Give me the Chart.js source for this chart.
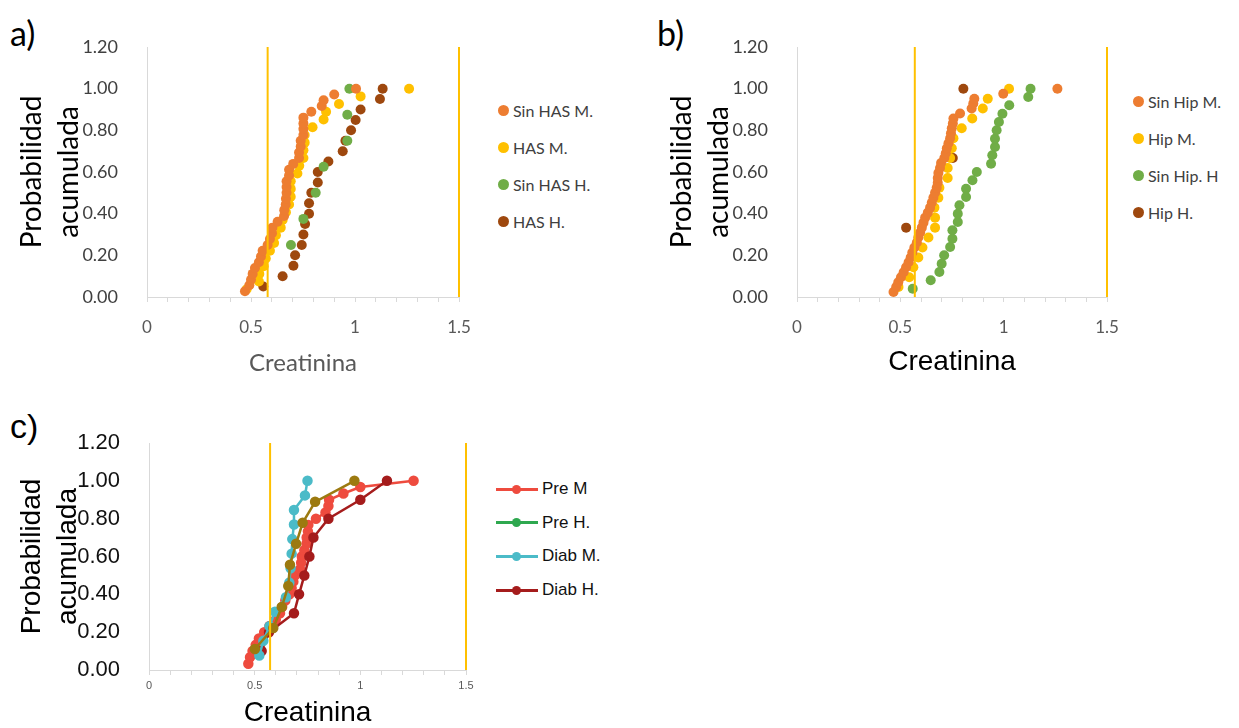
<!DOCTYPE html>
<html>
<head>
<meta charset="utf-8">
<script src="https://cdn.jsdelivr.net/npm/chart.js@4.4.1/dist/chart.umd.min.js"></script>
<style>
  body { margin: 0; background: #fff; width: 1239px; height: 728px; position: relative; overflow: hidden; }
  canvas { position: absolute; }
  .tag { position: absolute; color: #000; line-height: 1; }
  .leg { position: absolute; white-space: nowrap; }
  .leg .row { position: absolute; left: 0; height: 20px; display: flex; align-items: center; }
  .dot { display: inline-block; width: 11px; height: 11px; border-radius: 50%; margin-right: 4px; }
  .ln { position: relative; display: inline-block; width: 42px; height: 3px; margin-right: 4px; }
  .ln i { position: absolute; left: 16px; top: -3px; width: 9px; height: 9px; border-radius: 50%; }
</style>
</head>
<body>
<div class="tag" style="left:10px;top:12px;font:34px Lato, sans-serif">a)</div>
<div class="tag" style="left:657px;top:12px;font:34px Lato, sans-serif">b)</div>
<div class="tag" style="left:10px;top:407px;font:34px 'Liberation Sans', sans-serif">c)</div>
<canvas id="chartA" width="470" height="385" style="left:0;top:0"></canvas>
<canvas id="chartB" width="470" height="385" style="left:650px;top:0"></canvas>
<canvas id="chartC" width="480" height="338" style="left:0;top:390px"></canvas>
<div class="leg" id="legA" style="left:498px;top:0"></div>
<div class="leg" id="legB" style="left:1133px;top:0"></div>
<div class="leg" id="legC" style="left:496px;top:0"></div>
<script>
// a) HAS
const aSinHasMX = [0.471, 0.492, 0.5, 0.508, 0.519, 0.538, 0.548, 0.556, 0.58, 0.591, 0.601, 0.603, 0.628, 0.659, 0.66, 0.667, 0.668, 0.671, 0.671, 0.671, 0.683, 0.683, 0.703, 0.731, 0.731, 0.739, 0.739, 0.752, 0.752, 0.752, 0.752, 0.79, 0.84, 0.849, 0.9, 1.005];
const aSinHasMY = [0.028, 0.056, 0.083, 0.111, 0.139, 0.167, 0.194, 0.222, 0.25, 0.278, 0.306, 0.333, 0.361, 0.389, 0.417, 0.444, 0.472, 0.5, 0.528, 0.556, 0.583, 0.611, 0.639, 0.667, 0.694, 0.722, 0.75, 0.778, 0.806, 0.833, 0.861, 0.889, 0.917, 0.944, 0.972, 1.0];
const aHasMX = [0.479, 0.538, 0.54, 0.561, 0.571, 0.591, 0.611, 0.62, 0.643, 0.652, 0.668, 0.683, 0.691, 0.691, 0.691, 0.723, 0.732, 0.752, 0.752, 0.758, 0.758, 0.796, 0.849, 0.861, 0.923, 1.027, 1.26];
const aHasMY = [0.037, 0.074, 0.111, 0.148, 0.185, 0.222, 0.259, 0.296, 0.333, 0.37, 0.407, 0.444, 0.481, 0.519, 0.556, 0.593, 0.63, 0.667, 0.704, 0.741, 0.778, 0.815, 0.852, 0.889, 0.926, 0.963, 1.0];
const aSinHasHX = [0.527, 0.692, 0.752, 0.811, 0.849, 0.963, 0.963, 0.973];
const aSinHasHY = [0.125, 0.25, 0.375, 0.5, 0.625, 0.75, 0.875, 1.0];
const aHasHX = [0.559, 0.652, 0.704, 0.712, 0.744, 0.752, 0.76, 0.779, 0.779, 0.79, 0.821, 0.821, 0.872, 0.941, 0.954, 0.981, 1.003, 1.027, 1.12, 1.133];
const aHasHY = [0.05, 0.1, 0.15, 0.2, 0.25, 0.3, 0.35, 0.4, 0.45, 0.5, 0.55, 0.6, 0.65, 0.7, 0.75, 0.8, 0.85, 0.9, 0.95, 1.0];
const refA = [0.58, 1.5];

// b) Hipotiroidismo
const bSinHipMX = [0.467, 0.48, 0.49, 0.503, 0.516, 0.528, 0.54, 0.55, 0.558, 0.568, 0.58, 0.587, 0.596, 0.604, 0.612, 0.62, 0.633, 0.644, 0.652, 0.66, 0.668, 0.676, 0.681, 0.681, 0.684, 0.692, 0.697, 0.713, 0.72, 0.725, 0.733, 0.741, 0.745, 0.749, 0.754, 0.757, 0.789, 0.845, 0.853, 0.858, 0.998, 1.26];
const bSinHipMY = [0.024, 0.048, 0.071, 0.095, 0.119, 0.143, 0.167, 0.19, 0.214, 0.238, 0.262, 0.286, 0.31, 0.333, 0.357, 0.381, 0.405, 0.429, 0.452, 0.476, 0.5, 0.524, 0.548, 0.571, 0.595, 0.619, 0.643, 0.667, 0.69, 0.714, 0.738, 0.762, 0.786, 0.81, 0.833, 0.857, 0.881, 0.905, 0.929, 0.952, 0.976, 1.0];
const bHipMX = [0.491, 0.543, 0.563, 0.587, 0.607, 0.636, 0.668, 0.668, 0.665, 0.684, 0.689, 0.729, 0.729, 0.741, 0.749, 0.757, 0.797, 0.848, 0.899, 0.923, 1.026];
const bHipMY = [0.048, 0.095, 0.143, 0.19, 0.238, 0.286, 0.333, 0.381, 0.429, 0.476, 0.524, 0.571, 0.619, 0.667, 0.714, 0.762, 0.81, 0.857, 0.905, 0.952, 1.0];
const bSinHipHX = [0.56, 0.647, 0.689, 0.7, 0.712, 0.741, 0.752, 0.752, 0.778, 0.778, 0.786, 0.818, 0.818, 0.849, 0.87, 0.939, 0.945, 0.958, 0.958, 0.966, 0.977, 0.994, 1.027, 1.119, 1.13];
const bSinHipHY = [0.04, 0.08, 0.12, 0.16, 0.2, 0.24, 0.28, 0.32, 0.36, 0.4, 0.44, 0.48, 0.52, 0.56, 0.6, 0.64, 0.68, 0.72, 0.76, 0.8, 0.84, 0.88, 0.92, 0.96, 1.0];
const bHipHX = [0.528, 0.754, 0.805];
const bHipHY = [0.333, 0.667, 1.0];
const refB = [0.57, 1.5];

// c) Prediabetes / Diabetes
const cPreMX = [0.47, 0.478, 0.49, 0.505, 0.52, 0.545, 0.57, 0.6, 0.62, 0.63, 0.645, 0.665, 0.675, 0.683, 0.69, 0.715, 0.72, 0.723, 0.735, 0.745, 0.746, 0.752, 0.754, 0.79, 0.835, 0.849, 0.852, 0.92, 1.0, 1.252];
const cPreMY = [0.033, 0.067, 0.1, 0.133, 0.167, 0.2, 0.233, 0.267, 0.3, 0.333, 0.367, 0.4, 0.433, 0.467, 0.5, 0.533, 0.567, 0.6, 0.633, 0.667, 0.7, 0.733, 0.767, 0.8, 0.833, 0.867, 0.9, 0.933, 0.967, 1.0];
const cPreHX = [0.501, 0.588, 0.628, 0.659, 0.667, 0.696, 0.727, 0.786, 0.972];
const cPreHY = [0.111, 0.222, 0.333, 0.444, 0.556, 0.667, 0.778, 0.889, 1.0];
const cDiabMX = [0.522, 0.541, 0.57, 0.596, 0.648, 0.664, 0.67, 0.675, 0.678, 0.686, 0.686, 0.738, 0.75];
const cDiabMY = [0.077, 0.154, 0.231, 0.308, 0.385, 0.462, 0.538, 0.615, 0.692, 0.769, 0.846, 0.923, 1.0];
const cDiabHX = [0.533, 0.568, 0.686, 0.71, 0.735, 0.759, 0.778, 0.849, 1.0, 1.126];
const cDiabHY = [0.1, 0.2, 0.3, 0.4, 0.5, 0.6, 0.7, 0.8, 0.9, 1.0];
const refC = [0.573, 1.5];

const pts = (xs, ys) => xs.map((x, i) => ({ x, y: ys[i] }));

function refLines(xs) {
  return xs.map(x => ({
    type: 'line', data: [{ x, y: 0 }, { x, y: 1.2 }], clip: false,
    borderColor: '#FFC000', borderWidth: 2, pointRadius: 0, showLine: true
  }));
}

function dots(label, xs, ys, color) {
  return { label, data: pts(xs, ys), backgroundColor: color, borderColor: color, borderWidth: 0, pointRadius: 5, pointHoverRadius: 5 };
}

function lineSeries(label, xs, ys, color) {
  return { label, data: pts(xs, ys), showLine: true, tension: 0, backgroundColor: color, borderColor: color,
    borderWidth: 2.5, pointRadius: 4, pointHoverRadius: 4 };
}

function makeChart(id, datasets, L) {
  return new Chart(document.getElementById(id), {
    type: 'scatter',
    data: { datasets },
    options: {
      responsive: false, animation: false, devicePixelRatio: 1,
      layout: { padding: { left: 0, right: L.padR, top: L.padT, bottom: 0 } },
      plugins: { legend: { display: false }, tooltip: { enabled: false } },
      scales: {
        x: {
          type: 'linear', min: 0, max: 1.5,
          afterFit: s => { s.height = L.xH; s.paddingLeft = 0; s.paddingRight = 0; },
          grid: { drawOnChartArea: false, drawTicks: true, tickLength: 5, color: '#d9d9d9' },
          border: { color: '#d9d9d9' },
          ticks: {
            stepSize: 0.1, autoSkip: false, maxRotation: 0, padding: L.xPad, color: '#595959', font: L.xFont,
            callback: v => Math.abs(v * 2 - Math.round(v * 2)) < 1e-6 ? String(Math.round(v * 10) / 10) : ''
          },
          title: { display: true, text: 'Creatinina', color: L.xTitleColor, font: L.xTitleFont, padding: { top: 0, bottom: L.xTitlePad } }
        },
        y: {
          min: 0, max: 1.2,
          afterFit: s => { s.width = L.yW; s.paddingTop = 0; s.paddingBottom = 0; },
          grid: { display: false },
          border: { color: '#d9d9d9' },
          ticks: { stepSize: 0.2, padding: L.yPad, color: L.yColor, font: L.yFont, callback: v => v.toFixed(2) },
          title: { display: true, text: ['Probabilidad', 'acumulada'], color: '#000', font: L.yTitleFont, padding: { top: L.yTitlePad, bottom: 0 } }
        }
      }
    }
  });
}

function legend(id, items, y0, gap, kind, font, color) {
  const box = document.getElementById(id);
  items.forEach((it, i) => {
    const row = document.createElement('div');
    row.className = 'row';
    row.style.top = (y0 + i * gap - 10) + 'px';
    row.style.font = font;
    row.style.color = color;
    const mark = kind === 'dot'
      ? `<span class="dot" style="background:${it.color}"></span>`
      : `<span class="ln" style="background:${it.color}"><i style="background:${it.color}"></i></span>`;
    row.innerHTML = mark + `<span>${it.label}</span>`;
    box.appendChild(row);
  });
}

const latoLayout = {
  padT: 47, xH: 88, xPad: 15, xFont: { family: 'Lato', size: 17 },
  yPad: 21, yColor: '#404040', yFont: { family: 'Lato', size: 18 },
  yTitleFont: { family: 'Lato', size: 28, lineHeight: 1.3 }, yTitlePad: 14
};

const seriesA = [
  ['Sin HAS M.', aSinHasMX, aSinHasMY, '#ED7D31'],
  ['HAS M.', aHasMX, aHasMY, '#FFC000'],
  ['Sin HAS H.', aSinHasHX, aSinHasHY, '#70AD47'],
  ['HAS H.', aHasHX, aHasHY, '#9E480E']
];
makeChart('chartA', [...refLines(refA), ...seriesA.map(s => dots(...s))], {
  ...latoLayout, padR: 11, yW: 147,
  xTitleColor: '#595959', xTitleFont: { family: 'Lato', size: 24, lineHeight: 1.2 }, xTitlePad: 7
});
legend('legA', seriesA.map(s => ({ label: s[0], color: s[3] })), 110, 37, 'dot', '16px Lato', '#404040');

const seriesB = [
  ['Sin Hip M.', bSinHipMX, bSinHipMY, '#ED7D31'],
  ['Hip M.', bHipMX, bHipMY, '#FFC000'],
  ['Sin Hip. H', bSinHipHX, bSinHipHY, '#70AD47'],
  ['Hip H.', bHipHX, bHipHY, '#9E480E']
];
makeChart('chartB', [...refLines(refB), ...seriesB.map(s => dots(...s))], {
  ...latoLayout, padR: 13, yW: 147,
  xTitleColor: '#000', xTitleFont: { family: 'Liberation Sans', size: 28, lineHeight: 1.2 }, xTitlePad: 6
});
legend('legB', seriesB.map(s => ({ label: s[0], color: s[3] })), 101, 37, 'dot', '16px Lato', '#404040');

const seriesC = [
  ['Pre H.', cPreHX, cPreHY, '#9C7A10'],
  ['Diab M.', cDiabMX, cDiabMY, '#4BBBC8'],
  ['Diab H.', cDiabHX, cDiabHY, '#A51C1C'],
  ['Pre M', cPreMX, cPreMY, '#EE4B3E']
];
makeChart('chartC', [...refLines(refC), ...seriesC.map(s => lineSeries(...s))], {
  padT: 53, padR: 14, xH: 58, yW: 149, xPad: 4, xFont: { family: 'Liberation Sans', size: 11 },
  yPad: 21, yColor: '#111', yFont: { family: 'Liberation Sans', size: 22 },
  yTitleFont: { family: 'Liberation Sans', size: 28, lineHeight: 1.3 }, yTitlePad: 14,
  xTitleColor: '#000', xTitleFont: { family: 'Liberation Sans', size: 28, lineHeight: 1 }, xTitlePad: 1
});
legend('legC', [
  { label: 'Pre M', color: '#EE4B3E' },
  { label: 'Pre H.', color: '#2EA84F' },
  { label: 'Diab M.', color: '#4BBBC8' },
  { label: 'Diab H.', color: '#A51C1C' }
], 489, 33.7, 'line', "17px 'Liberation Sans'", '#111');
</script>
</body>
</html>
